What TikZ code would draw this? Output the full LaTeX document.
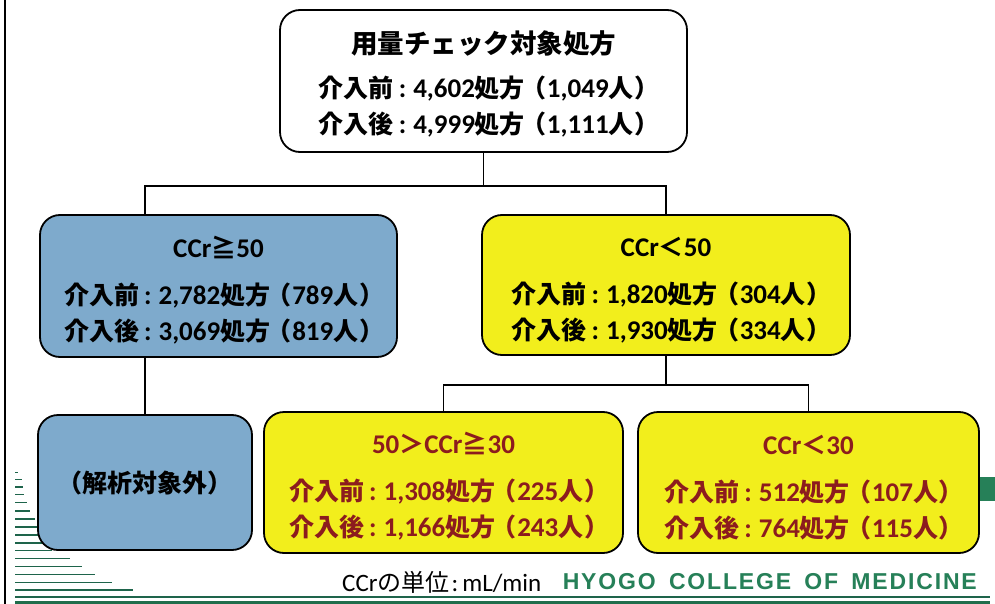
\documentclass[tikz,border=0pt]{standalone}
\usepackage{fontspec}
\setmainfont{Carlito}
\newfontfamily\jp{Noto Sans CJK JP}
\newfontfamily\jpp{Noto Sans CJK JP}[CharacterWidth=AlternateProportional]
\newfontfamily\arialb{Liberation Sans}[LetterSpace=8,BoldFont={Liberation Sans Bold}]
\newcommand\J[1]{{\jp\fontsize{25}{36}\selectfont #1}}
\newcommand\JP[1]{{\jpp\fontsize{25}{36}\selectfont #1}}
\newcommand\colo{\hspace{5pt}:\hspace{7pt}}
\newcommand\rxline[3]{\J{#1}\colo #2\J{処方}\hspace{8pt}\JP{（}\hspace{1.5pt}#3\J{人}\hspace{2pt}\JP{）}}
\newcommand\ttl[1]{\rule{0pt}{29pt}{\fontsize{27}{36}\selectfont #1}}
\definecolor{boxblue}{RGB}{126,170,204}
\definecolor{boxyellow}{RGB}{242,238,28}
\definecolor{darkred}{RGB}{140,28,30}
\definecolor{hcmgreen}{RGB}{38,128,88}
\definecolor{stripegreen}{RGB}{30,100,75}
\tikzset{
  box/.style={draw=black, line width=1.8pt, rounded corners=20pt, inner sep=0pt, align=center, font=\bfseries\fontsize{27}{36}\selectfont},
  conn/.style={draw=black, line width=1.3pt},
  stripe/.style={draw=stripegreen, line width=1.3pt},
}
\begin{document}
\begin{tikzpicture}[x=1pt,y=-1pt]
\useasboundingbox (0,0) rectangle (995,604);
\fill[white] (0,0) rectangle (995,604);
% left border
\draw[line width=2pt] (5,0) -- (5,604);
% left stripes
\foreach \yy/\xe in {472.7/18,479.5/22,487/23,494.5/24,502.5/27,511/30,519/35,527/38,535/42,543/46,550.5/52,558.5/70,566.5/82,574.5/95,582.5/112,590/133}
  \draw[stripe] (15,\yy) -- (\xe,\yy);
% bottom rule
\draw[draw=stripegreen, line width=1.2pt] (15,597) -- (990,597);
\fill[hcmgreen!85!black] (15,600.5) rectangle (990,604);
% right patch
\fill[hcmgreen] (975,477) rectangle (995,501);

% boxes
\node[box, fill=white, minimum width=407pt, minimum height=142pt] (top) at (483.5,81)
  {\rule{0pt}{29pt}{\jp\fontsize{26.5}{36}\selectfont 用量チェック対象処方}\\[8pt]
   \rxline{介入前}{4,602}{1,049}\\
   \rxline{介入後}{4,999}{1,111}};
\node[box, fill=boxblue, minimum width=357pt, minimum height=142pt] (lc) at (218.5,286)
  {\ttl{CCr\J{≧}50}\\[11pt]
   \rxline{介入前}{2,782}{789}\\
   \rxline{介入後}{3,069}{819}};
\node[box, fill=boxyellow, minimum width=368pt, minimum height=140pt] (mid) at (666,285)
  {\ttl{CCr\J{＜}50}\\[11pt]
   \rxline{介入前}{1,820}{304}\\
   \rxline{介入後}{1,930}{334}};
\node[box, fill=boxblue, minimum width=214pt, minimum height=135pt] (ex) at (145,482.5)
  {\J{（解析対象外）}};
\node[box, fill=boxyellow, text=darkred, minimum width=359pt, minimum height=141pt] (y1) at (443.5,482.5)
  {\ttl{50\J{＞}CCr\J{≧}30}\\[11pt]
   \rxline{介入前}{1,308}{225}\\
   \rxline{介入後}{1,166}{243}};
\node[box, fill=boxyellow, text=darkred, minimum width=341pt, minimum height=141pt] (y2) at (808.5,482.5)
  {\ttl{CCr\J{＜}30}\\[11pt]
   \rxline{介入前}{512}{107}\\
   \rxline{介入後}{764}{115}};

% connectors
\path (top.south) ++(0,33) coordinate (h1);
\draw[conn] (top.south) -- (h1);
\draw[conn] (ex.north |- lc.north) |- (h1) -| (mid.north);
\draw[conn] (ex.north |- lc.south) -- (ex.north);
\path (mid.south) ++(0,29) coordinate (h2);
\draw[conn] (mid.south) -- (h2);
\draw[conn] (y1.north) |- (h2) -| (y2.north);

% footer
\node[anchor=west, inner sep=0pt, font=\fontsize{25}{28}\selectfont] (unit) at (342,582)
  {CCr{\jp\fontsize{24}{28}\selectfont の単位}\hspace{2pt}:\hspace{4pt}mL/min};
\node[anchor=east, inner sep=0pt, text=hcmgreen, font=\arialb\bfseries\fontsize{23}{24}\selectfont] (hcm) at (977,582)
  {HYOGO\hspace{5pt} COLLEGE\hspace{5pt} OF\hspace{5pt} MEDICINE};
\end{tikzpicture}
\end{document}
